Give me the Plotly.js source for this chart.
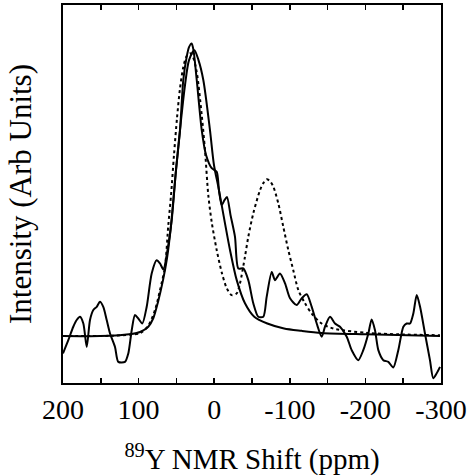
<!DOCTYPE html>
<html>
<head>
<meta charset="utf-8">
<script src="https://cdn.plot.ly/plotly-3.0.1.min.js"></script>
<style>
  html, body { margin: 0; padding: 0; background: #fff; }
  #chart { width: 469px; height: 476px; }
</style>
</head>
<body>
<div id="chart"></div>
<script>
// Measured 89Y spectrum (ppm, arbitrary intensity)
const measuredShift = [200, 193, 186.4, 181.9, 177.5, 173.1, 168.6, 164.3, 159.9, 155.4, 151.1, 146.7, 142.2, 137.8, 131.2, 126.8, 118, 113.6, 109.1, 104.8, 100.4, 95.1, 89.3, 82.7, 76.1, 71.7, 67.3, 60.7, 56.2, 50.5, 45.2, 40.9, 36.4, 33.3, 29.8, 27.4, 23.1, 16.5, 10.8, 3.3, -3.3, -6.3, -9.9, -13.6, -16.9, -21.6, -27.5, -31.9, -38.5, -45.1, -51.7, -58.3, -65, -69.4, -76.1, -80.4, -87, -93.7, -100.3, -109.1, -115.7, -122.4, -129, -135.6, -142.2, -146.6, -153.2, -159.8, -166.4, -175.3, -181.9, -190.6, -197.2, -203.9, -208.3, -212.7, -217.1, -223.7, -230.3, -236.9, -243.5, -250.2, -254.6, -259, -263.4, -267.9, -272.3, -278.8, -285.4, -289.8, -294.3, -298.7];
const measuredIntensity = [-5.9, -1.4, 3.2, 5.5, 6.6, 4.3, -3.7, 5.5, 8.9, 10.0, 11.7, 10.0, 5.5, 0.9, -3.7, -8.8, -8.8, -5.9, 2.0, 7.2, 6.0, 4.3, 10.0, 21.4, 25.9, 24.8, 22.8, 31.1, 39.6, 56.7, 70.3, 87.4, 95.3, 98.6, 99.9, 97.6, 87.4, 70.3, 61.8, 57.3, 56.1, 49.8, 44.7, 46.4, 47.5, 41.3, 33.9, 23.1, 23.1, 19.1, 11.2, 6.6, 6.6, 13.4, 21.9, 19.1, 21.4, 18.0, 12.9, 10.6, 12.9, 14.3, 10.0, 4.3, -0.2, 3.2, 6.6, 4.3, 3.2, -0.2, -4.8, -8.2, -4.8, 0.9, 5.7, 2.0, -4.8, -8.2, -8.8, -10.7, -4.8, 3.2, 4.3, 4.3, 7.7, 14.0, 10.0, 0.9, -8.2, -14.4, -12.7, -10.5];

// Single-site fit
const fitShift = [200, 151.1, 109.1, 98.1, 87.2, 80.6, 74.4, 67.7, 62.4, 57.1, 50.5, 43.9, 38.6, 33.3, 26.3, 20.8, 14.4, 5.6, 0.3, -5.4, -9.9, -20.9, -29.8, -40.7, -53, -70.3, -92.4, -115.7, -142.2, -200, -298.7];
const fitIntensity = [0, 0, 0.7, 1.4, 3.2, 6.1, 11.6, 19.1, 26.6, 37.9, 56.7, 73.7, 85.7, 94.2, 97.6, 94.2, 87.4, 70.3, 58.4, 51.0, 44.7, 29.4, 19.1, 11.2, 6.6, 4.3, 2.6, 1.8, 1.1, 0.6, 0];

// Two-site simulation
const simShift = [200, 137.8, 111.4, 98.1, 87.6, 78.3, 71.7, 65.1, 60.7, 57.1, 53.2, 49.2, 45.2, 40.9, 36.4, 32, 28, 23.1, 16.5, 12.2, 7.8, 3.3, -3.3, -9.9, -16.5, -23.1, -29.8, -34.1, -40.7, -45.1, -51.7, -60.6, -65, -69.4, -73.8, -78.2, -84.8, -91.4, -98, -104.6, -111.3, -120.1, -129, -142.2, -157.5, -201.7, -245.8, -298.7];
const simIntensity = [0, 0.1, 0.5, 1.0, 3.4, 8.9, 15.7, 23.7, 37.9, 48.1, 61.8, 74.4, 84.6, 91.8, 95.6, 96.5, 95.2, 90.1, 75.4, 63.5, 48.1, 38.9, 29.4, 21.8, 16.4, 14.0, 14.6, 18.0, 27.1, 33.9, 41.9, 49.8, 52.2, 53.5, 52.9, 51.0, 45.3, 37.3, 29.4, 22.5, 15.7, 11.2, 7.7, 4.3, 2.6, 1.1, 0.6, 0.3];

const xTickVals = [200, 150, 100, 50, 0, -50, -100, -150, -200, -250, -300];
const xTickText = ['200', '', '100', '', '0', '', '-100', '', '-200', '', '-300'];

const serif = '"Liberation Serif", "Times New Roman", serif';

const traces = [
  {
    x: simShift, y: simIntensity, type: 'scatter', mode: 'lines',
    line: { color: '#000', width: 2, dash: 'dot', shape: 'spline', smoothing: 0.8 },
    hoverinfo: 'skip'
  },
  {
    x: fitShift, y: fitIntensity, type: 'scatter', mode: 'lines',
    line: { color: '#000', width: 2, shape: 'spline', smoothing: 0.8 },
    hoverinfo: 'skip'
  },
  {
    x: measuredShift, y: measuredIntensity, type: 'scatter', mode: 'lines',
    line: { color: '#000', width: 2, shape: 'spline', smoothing: 0.7 },
    hoverinfo: 'skip'
  }
];

const layout = {
  width: 469, height: 476,
  margin: { l: 63, r: 28, t: 5, b: 93 },
  showlegend: false,
  paper_bgcolor: '#fff', plot_bgcolor: '#fff',
  font: { family: serif, color: '#000', size: 28 },
  xaxis: {
    range: [200, -300],
    tickmode: 'array', tickvals: xTickVals, ticktext: xTickText,
    ticks: 'inside', ticklen: 5, tickwidth: 1.5, tickcolor: '#000',
    showline: true, linecolor: '#000', linewidth: 2, mirror: 'ticks',
    showgrid: false, zeroline: false,
    tickfont: { family: serif, size: 28, color: '#000' },
    title: { text: '<sup>89</sup>Y NMR Shift (ppm)', font: { family: serif, size: 29, color: '#000' }, standoff: 25 }
  },
  yaxis: {
    range: [-16, 113],
    showticklabels: false, ticks: '',
    showline: true, linecolor: '#000', linewidth: 2, mirror: true,
    showgrid: false, zeroline: false,
    title: { text: 'Intensity (Arb Units)', font: { family: serif, size: 31, color: '#000' }, standoff: 20 }
  }
};

Plotly.newPlot('chart', traces, layout, { staticPlot: true, displayModeBar: false });
</script>
</body>
</html>
